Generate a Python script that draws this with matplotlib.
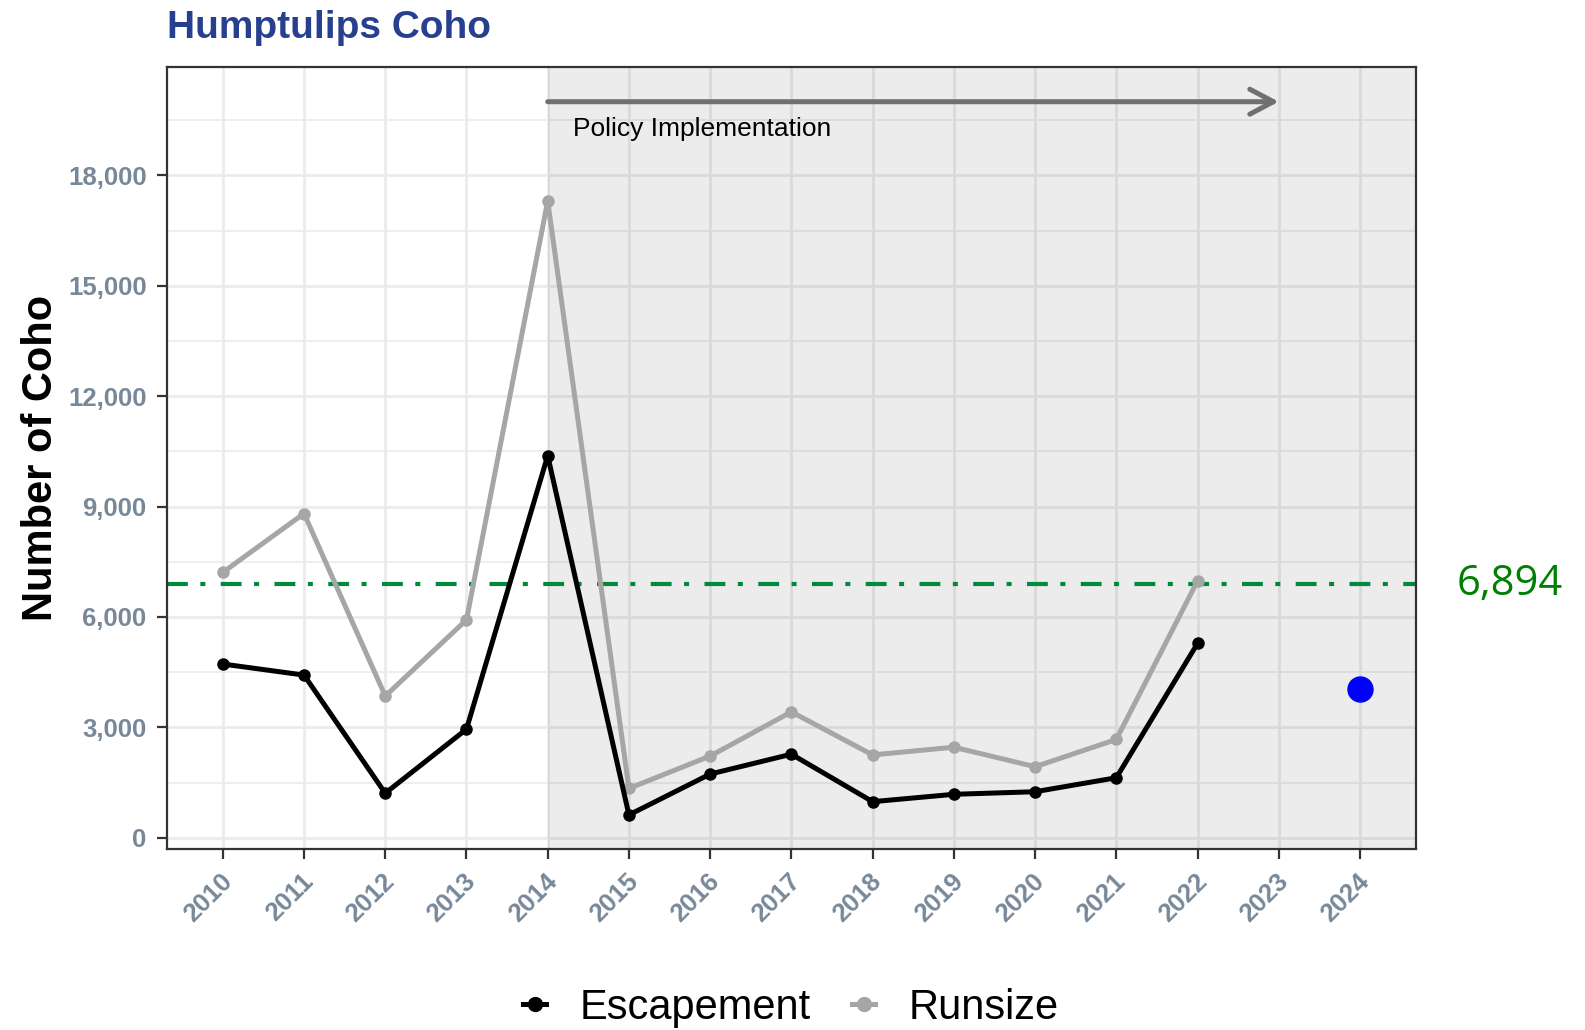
import numpy as np
import matplotlib
matplotlib.use("Agg")
import matplotlib.pyplot as plt
import matplotlib.transforms as mtransforms
from matplotlib.lines import Line2D
from matplotlib.patches import FancyArrowPatch
from matplotlib.ticker import FuncFormatter

plt.rcParams['font.family'] = ['Liberation Sans', 'DejaVu Sans']

# data
years = list(range(2010, 2023))
escapement = [4720, 4420, 1210, 2950, 10380, 620, 1730, 2270, 980, 1180, 1250, 1630, 5280]
runsize = [7210, 8810, 3850, 5920, 17300, 1340, 2220, 3420, 2250, 2460, 1930, 2670, 6980]
forecast_year = [2024]
forecast = [4040]
goal = 6894
policy_start = 2014
policy_end = 2023
year_ticks = list(range(2010, 2025))
y_ticks = list(range(0, 18001, 3000))
y_minor = list(range(1500, 21000, 3000))

tick_col = '#778899'
grid_col = '#ebebeb'

fig = plt.figure(figsize=(15.85, 10.30), dpi=100)
ax = fig.add_axes([0.1052, 0.1757, 0.7882, 0.7595])

ax.set_xlim(2009.31, 2024.69)
ax.set_ylim(-307, 20950)

# grid
ax.set_axisbelow(True)
ax.set_xticks(year_ticks)
ax.set_yticks(y_ticks)
ax.set_yticks(y_minor, minor=True)
ax.grid(True, which='major', color=grid_col, lw=2.0, zorder=0)
ax.grid(True, which='minor', axis='y', color=grid_col, lw=1.2, zorder=0)

# policy period shading
ax.axvspan(policy_start, 2030, color='black', alpha=0.075, lw=0, zorder=1)

# goal line
ax.plot([2009.31, 2024.69], [goal, goal], color='#00883f', lw=3,
        dashes=(5.0, 3.0, 1.2, 3.7), solid_capstyle='butt', zorder=2)

ax.plot(years, runsize, color='#a6a6a6', lw=3.6, marker='o', ms=8, zorder=3)
ax.plot(years, escapement, color='#000000', lw=3.6, marker='o', ms=8, zorder=4)
ax.plot(forecast_year, forecast, ls='none', marker='o', ms=18, color='#0000ff', zorder=5)

# policy arrow
arr = FancyArrowPatch((policy_start, 20000), (policy_end, 20000),
                      arrowstyle='->,head_length=0.85,head_width=0.45',
                      mutation_scale=20, color='#707070', lw=3.6,
                      shrinkA=0, shrinkB=0, zorder=5)
ax.add_patch(arr)
ax.text(2015.9, 19250, 'Policy Implementation', fontsize=19, color='black',
        ha='center', va='center', zorder=6)

# goal label outside panel
trans = mtransforms.blended_transform_factory(ax.transAxes, ax.transData)
ax.text(1.0752, goal, '6,894', transform=trans, fontsize=30, color='#008000',
        family='Open Sans', ha='center', va='center', clip_on=False)

# axes styling
for s in ax.spines.values():
    s.set_color('#333333')
    s.set_linewidth(1.6)
ax.tick_params(which='major', direction='out', length=7.5, width=1.6,
               color='#333333', pad=7, labelsize=18.5, labelcolor=tick_col)
ax.tick_params(which='minor', length=0)
ax.yaxis.set_major_formatter(FuncFormatter(lambda v, p: f'{int(v):,}'))
for lab in ax.get_yticklabels():
    lab.set_fontweight('bold')

offset = mtransforms.ScaledTranslation(0.14, 0, fig.dpi_scale_trans)
for lab in ax.get_xticklabels():
    lab.set_fontweight('bold')
    lab.set_rotation(45)
    lab.set_ha('right')
    lab.set_transform(lab.get_transform() + offset)

ax.set_ylabel('Number of Coho', fontsize=30, fontweight='bold')
ax.yaxis.set_label_coords(-0.0843, 0.5)

fig.text(167 / 1585, 1 - 37.5 / 1030, 'Humptulips Coho', fontsize=28,
         fontweight='bold', color='#26408f', ha='left', va='baseline')

handles = [Line2D([0], [0], color='black', lw=3.6, marker='o', ms=10),
           Line2D([0], [0], color='#a6a6a6', lw=3.6, marker='o', ms=10)]
fig.legend(handles, ['Escapement', 'Runsize'], loc='center', ncol=2,
           bbox_to_anchor=(791 / 1585, 1 - 1008 / 1030), frameon=False,
           fontsize=30, handlelength=0.55, handletextpad=0.8, columnspacing=1.0)

fig.savefig('out.png', dpi=100)
